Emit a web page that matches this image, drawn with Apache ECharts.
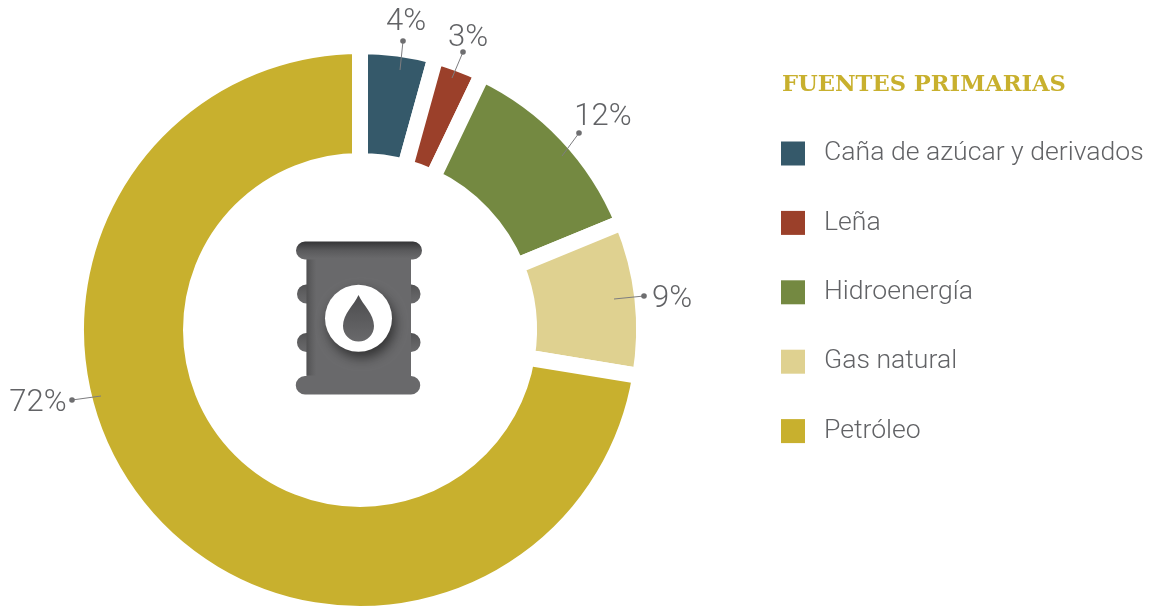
<!DOCTYPE html>
<html><head><meta charset="utf-8">
<style>html,body{margin:0;padding:0;background:#fff}#c{width:1151px;height:607px}</style>
<script src="https://cdn.jsdelivr.net/npm/echarts@6/dist/echarts.min.js"></script>
</head><body><div id="c"></div>
<script>
const categories = ['Caña de azúcar y derivados','Leña','Hidroenergía','Gas natural','Petróleo'];
const values = [4.3, 2.8, 11.7, 8.8, 72.4];
const percentLabels = ['4%','3%','12%','9%','72%'];
const colors = ['#35596a','#9b402a','#748941','#dfd190','#c8b02e'];
const labelPos = [[406,22],[468,38],[603,117],[672,299],[38,403]];
const leaders = [[[400,70],[403,41]],[[452,78],[463,52]],[[562,156],[579,133]],[[614,299],[644,296]],[[101,396],[72,400]]];
const GRAY='#69696b';
const barrelPath='M305 241.5H413a9 9 0 0 1 0 18H411V284.5a9.5 9.5 0 0 1 0 19V333a9.5 9.5 0 0 1 0 19V376a9.2 9.2 0 0 1 0 18.5H305a9.2 9.2 0 0 1 0-18.5H306.5V352a9.5 9.5 0 0 1 0-19V303.5a9.5 9.5 0 0 1 0-19V259.5H305a9 9 0 0 1 0-18Z';
const dropPath='M358.5 295C363 305 374 314 374 326A15.5 15.5 0 0 1 343 326C343 314 354 305 358.5 295Z';
echarts.graphic.registerShape('barrelIcon',echarts.graphic.extendPath(barrelPath,{}));
echarts.graphic.registerShape('dropIcon',echarts.graphic.extendPath(dropPath,{}));
const lg=(x,y,x2,y2,a,b)=>({type:'linear',x,y,x2,y2,colorStops:[{offset:0,color:a},{offset:1,color:b}]});
const barrelFill={type:'linear',x:0,y:0,x2:0,y2:1,colorStops:[{offset:0,color:'#343436'},{offset:0.06,color:'#5a5a5c'},{offset:0.11,color:GRAY},{offset:1,color:GRAY}]};
const graphics=[
 {type:'barrelIcon',style:{fill:barrelFill},z:5},
 {type:'rect',shape:{x:306.5,y:259.5,width:10,height:116},style:{fill:lg(0,0,1,0,'rgba(30,30,30,.35)','rgba(60,60,60,0)')},z:6},
 {type:'circle',shape:{cx:358.5,cy:318.3,r:33.5},style:{fill:'#fff',shadowBlur:12,shadowColor:'rgba(20,20,20,.65)',shadowOffsetX:3,shadowOffsetY:6},z:7},
 {type:'dropIcon',style:{fill:lg(0,0,0,1,'#4c4c4e',GRAY)},z:8}
];
[[306.5,294,1],[306.5,342.5,1],[411,294,0],[411,342.5,0]].forEach(([cx,cy,left])=>{
 graphics.push({type:'sector',shape:{cx,cy,r0:0,r:9.5,startAngle:left?Math.PI/2:-Math.PI/2,endAngle:left?Math.PI*1.5:Math.PI/2},style:{fill:lg(0,0,0,1,'rgba(30,30,30,.3)','rgba(60,60,60,0)')},z:6});
});
leaders.forEach(([a,b])=>{
 graphics.push({type:'line',shape:{x1:a[0],y1:a[1],x2:b[0],y2:b[1]},style:{stroke:'#7d7d80',lineWidth:1},z:10});
 graphics.push({type:'circle',shape:{cx:b[0],cy:b[1],r:2.8},style:{fill:'#6e6e70'},z:10});
});
const chart=echarts.init(document.getElementById('c'),null,{renderer:'canvas'});
chart.setOption({
 animation:false,
 color:colors,
 title:{text:'FUENTES PRIMARIAS',left:782,top:74,textStyle:{fontFamily:'DejaVu Serif',fontWeight:'bold',fontSize:22.6,color:'#c8b02e'},padding:0},
 legend:{orient:'vertical',left:781,top:140,itemWidth:24,itemHeight:24,itemGap:42.4,icon:'rect',selectedMode:false,padding:0,
  itemStyle:{borderWidth:0},
  data:categories,
  textStyle:{fontFamily:'Roboto',fontWeight:300,fontSize:26.6,color:'#626366',padding:[5,0,0,14]}},
 graphic:graphics,
 series:[{type:'pie',center:[360,330],radius:[169,284],startAngle:90,clockwise:true,silent:true,avoidLabelOverlap:false,
  itemStyle:{borderColor:'#fff',borderWidth:16},
  label:{show:true,formatter:p=>percentLabels[p.dataIndex],fontFamily:'Roboto',fontWeight:300,fontSize:31,color:'#626366'},
  labelLine:{show:false},
  labelLayout:p=>({x:labelPos[p.dataIndex][0],y:labelPos[p.dataIndex][1],align:'center',verticalAlign:'middle'}),
  data:categories.map((n,i)=>({name:n,value:values[i]}))}]
});
</script></body></html>
